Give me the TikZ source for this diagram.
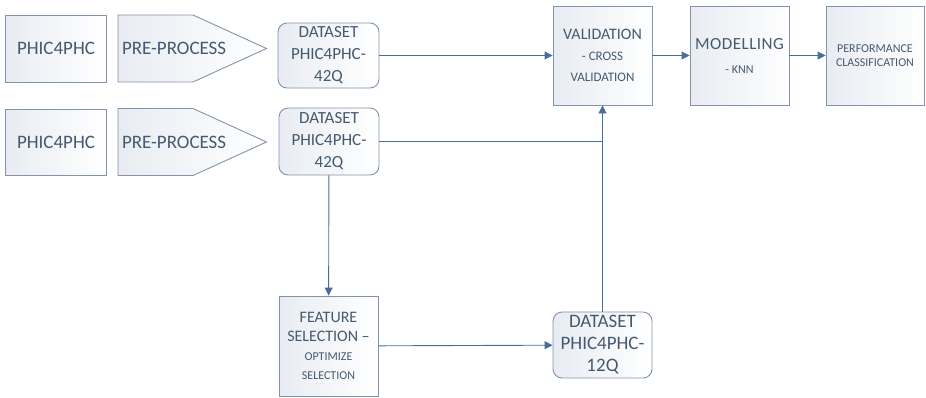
\documentclass[tikz,border=0pt]{standalone}
\usepackage{fontspec}
\setmainfont{Carlito}
\usetikzlibrary{shapes.symbols,arrows.meta}

\definecolor{boxline}{HTML}{8194AA}
\definecolor{boxtext}{HTML}{455A70}
\definecolor{arrowline}{HTML}{456E98}
\definecolor{boxshade}{HTML}{E8ECF2}

\tikzset{
  flowbox/.style={draw=boxline,line width=0.9pt,text=boxtext,align=center,
    left color=boxshade,right color=white,inner sep=1pt},
  roundbox/.style={flowbox,rounded corners=9pt},
  prebox/.style={flowbox,shape=signal,signal to=east,signal pointer angle=49,
    minimum height=67pt,text width=67pt,align=left,inner xsep=4pt},
  flow/.style={draw=arrowline,line width=0.9pt,-{Triangle[length=8pt,width=8pt]}},
}

\begin{document}
\begin{tikzpicture}[x=1pt,y=-1pt]

      \useasboundingbox (0,0) rectangle (926,397);

      \begin{scope}[every node/.style={flowbox}]
        \node[minimum width=101pt,minimum height=67pt,font=\fontsize{19}{22}\selectfont]
          (src1) at (56,48.5) {PHIC4PHC};
        \node[minimum width=101pt,minimum height=66pt,font=\fontsize{19}{22}\selectfont]
          (src2) at (56,142) {PHIC4PHC};
        \node[prebox,font=\fontsize{19}{22}\selectfont] (pre1) at (155.5,48.5) {\mbox{PRE-PROCESS}};
        \node[prebox,font=\fontsize{19}{22}\selectfont] (pre2) at (155.5,142) {\mbox{PRE-PROCESS}};
        \node[roundbox,minimum width=101pt,minimum height=65pt,font=\fontsize{17}{22}\selectfont]
          (data1) at (328.5,55.5) {DATASET\\PHIC4PHC-\\42Q};
        \node[roundbox,minimum width=100pt,minimum height=67pt,font=\fontsize{17}{22}\selectfont]
          (data2) at (329,141.5) {DATASET\\PHIC4PHC-\\42Q};
        \node[minimum width=99pt,minimum height=99pt,font=\fontsize{16}{21}\selectfont]
          (valid) at (602.5,55.5) {VALIDATION\\{\fontsize{13}{21}\selectfont - CROSS}\\
          {\fontsize{13}{21}\selectfont VALIDATION}};
        \node[minimum width=99pt,minimum height=99pt,font=\fontsize{17}{24}\selectfont]
          (model) at (739.5,55.5) {\addfontfeature{LetterSpace=3}MODELLING\\
          {\fontsize{12}{24}\selectfont - KNN}};
        \node[minimum width=98pt,minimum height=99pt,font=\fontsize{12}{14}\selectfont]
          (perf) at (875,55.5) {PERFORMANCE\\CLASSIFICATION};
        \node[minimum width=99pt,minimum height=100pt,font=\fontsize{16}{19}\selectfont]
          (feat) at (328.5,346) {FEATURE\\SELECTION --\\
          {\fontsize{12}{17}\selectfont OPTIMIZE}\\{\fontsize{12}{17}\selectfont SELECTION}};
        \node[roundbox,minimum width=99pt,minimum height=66pt,font=\fontsize{19}{22}\selectfont]
          (data3) at (602.5,345) {DATASET\\PHIC4PHC-\\12Q};
      \end{scope}

      % connectors
      \path[flow] (data1) -- (valid);
      \path[flow] (valid) -- (model);
      \path[flow] (model) -- (perf);
      \path[flow] (data2) -- (feat);
      \path[flow] (feat) -- (data3);
      \path[flow] (data3) -- (valid);
      \draw[draw=arrowline,line width=0.9pt] (data2.east) -- (valid.south |- data2.east);

    \end{tikzpicture}
\end{document}
